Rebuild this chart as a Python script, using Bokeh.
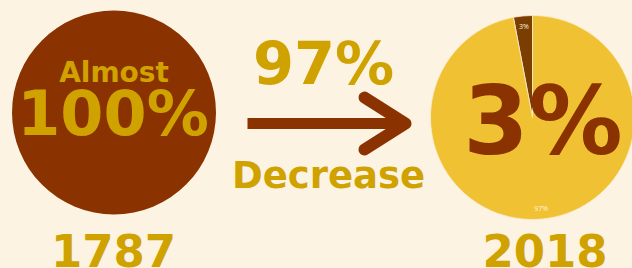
import numpy as np
from bokeh.plotting import figure
from bokeh.models import ColumnDataSource, Range1d, GlobalInlineStyleSheet
from bokeh.core.properties import value
from bokeh.embed import file_html
from bokeh.resources import INLINE

# ---- data ----
pie_labels = ["3%", "97%"]
pie_values = [3, 97]
pie_colors = ["#7A3E02", "#F0C233"]
years = ["1787", "2018"]
left_texts = ["Almost", "100%"]
middle_texts = ["97%", "Decrease"]
right_text = ["3%"]

W, H = 632, 268
CREAM = "#FDF3E3"
GOLD = "#CFA200"
BROWN = "#8B3300"
FONT = value("DejaVu Sans")
SHIFT = 0.38  # baseline correction (em)

def Y(py):
    return H - py

def TB(py, fs):
    # baseline y in data units, corrected
    return H - (py - SHIFT * fs)

p = figure(width=W, height=H, x_range=Range1d(0, W), y_range=Range1d(0, H),
           output_backend="svg", toolbar_location=None, min_border=0,
           x_axis_type=None, y_axis_type=None)
p.grid.visible = False
p.outline_line_color = None
p.background_fill_color = CREAM
p.border_fill_color = CREAM
p.stylesheets = [GlobalInlineStyleSheet(css=f"html,body{{margin:0;padding:0;background:{CREAM};overflow:hidden}}")]

def txt(x, py, t, fs, color, bold=True):
    p.text(x=x, y=[TB(py, fs)] * len(x), text=t, text_font=FONT,
           text_font_style="bold" if bold else "normal",
           text_font_size=f"{fs}px", text_color=color, text_align="center",
           text_baseline="alphabetic")

# left circle
p.circle(x=[113.5], y=[Y(112)], radius=102, fill_color=BROWN, line_color=None)
txt([113.5], 83, [left_texts[0]], 28, GOLD)
txt([112.5], 137, [left_texts[1]], 62, GOLD)

# middle
txt([323], 85, [middle_texts[0]], 59, GOLD)
txt([328], 189, [middle_texts[1]], 37, GOLD)
# arrow
p.line(x=[247, 400], y=[Y(123), Y(123)], line_color=BROWN, line_width=11, line_cap="butt")
p.line(x=[364, 405, 364], y=[Y(97), Y(123), Y(149)], line_color=BROWN, line_width=12,
       line_cap="round", line_join="round")

# pie
cx, cy, R = 532, Y(117), 102
vals = np.array(pie_values, dtype=float)
frac = vals / vals.sum()
ends = np.cumsum(frac) * 2 * np.pi
starts = np.concatenate([[0], ends[:-1]])
start_ang = np.pi / 2 + starts
end_ang = np.pi / 2 + ends
mid = (start_ang + end_ang) / 2
src = ColumnDataSource(dict(start=start_ang, end=end_ang, color=pie_colors,
                            lx=cx + 0.9 * R * np.cos(mid), ly=cy + 0.9 * R * np.sin(mid),
                            label=pie_labels))
p.wedge(x=cx, y=cy, radius=R, start_angle="start", end_angle="end", fill_color="color",
        line_color="#FBEBD0", line_width=0.8, source=src)
p.text(x="lx", y="ly", text="label", source=src, text_font=value("Open Sans"),
       text_font_size="7px", text_color="#FFF4DC", text_align="center", text_baseline="middle")
txt([542.5], 157, right_text, 94, BROWN)

# years
txt([113, 544.5], 267, years, 45, GOLD)

open("out.html", "w").write(file_html(p, INLINE))
